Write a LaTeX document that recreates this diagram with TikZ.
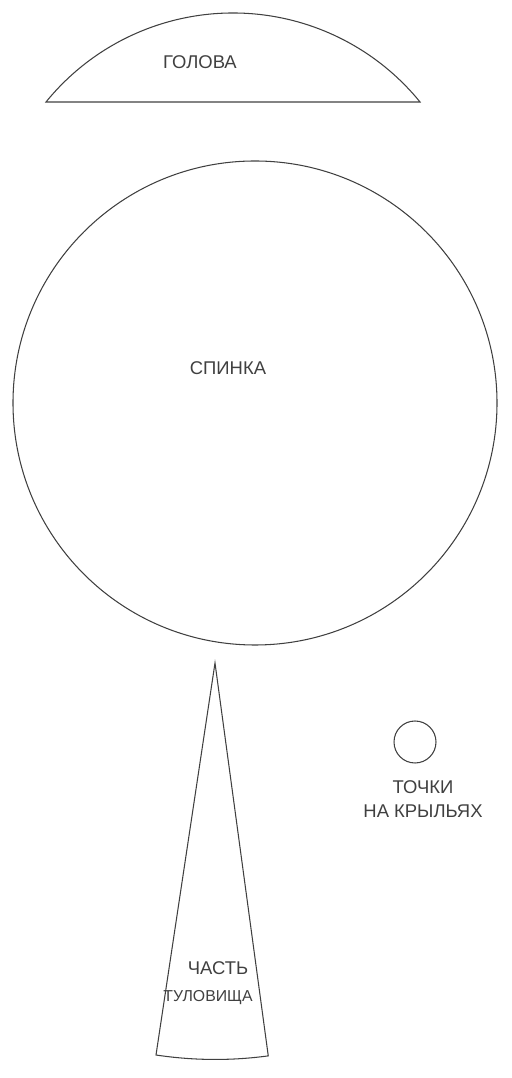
\documentclass[tikz,border=0pt]{standalone}
\usepackage{fontspec}
\setmainfont{Liberation Sans}
\begin{document}
\begin{tikzpicture}[x=0.02cm, y=0.02cm,
    cut/.style={draw=black!75, line width=0.6pt},
    lbl/.style={text=black!75, font=\fontsize{10.5}{12}\selectfont, inner sep=0pt}]
    \useasboundingbox (0,0) rectangle (511,1078);
    % head
    \draw[cut] (46,976) arc[start angle=140.9, end angle=39.1, radius=241] -- cycle;
    \node[lbl] (golova) at (200,1016) {ГОЛОВА};
    % back
    \draw[cut] (255,675) circle(242);
    \node[lbl] (spinka) at (228,710) {СПИНКА};
    % body part
    \coordinate (apex) at (215,415);
    \draw[cut] (apex) -- (156,23) arc[start angle=261.4, end angle=277.7, radius=396] -- cycle;
    \node[lbl] (chast) at (218,110) {ЧАСТЬ};
    \node[lbl, font=\fontsize{9}{11}\selectfont] (tulov) at (208,80) {ТУЛОВИЩА};
    % wing dots
    \draw[cut] (415,336) circle(21);
    \node[lbl] (tochki) at (423,291) {ТОЧКИ};
    \node[lbl] (krylya) at (423,267) {НА КРЫЛЬЯХ};
\end{tikzpicture}
\end{document}
